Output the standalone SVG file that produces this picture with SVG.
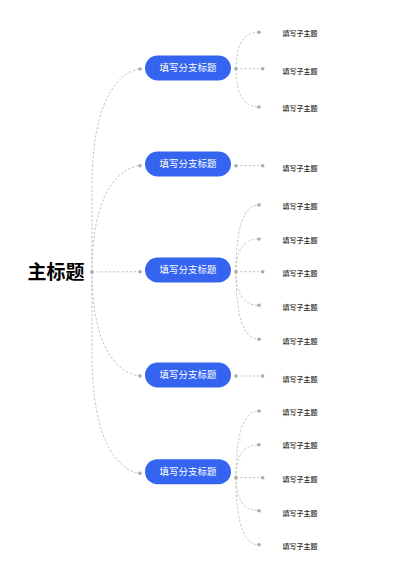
<svg xmlns="http://www.w3.org/2000/svg" width="400" height="566" viewBox="0 0 400 566">
<style>
.c{fill:none;stroke:#bcbcbc;stroke-width:0.9;stroke-dasharray:2.4 1.8}
.d{fill:#ababab}
.n{fill:#3464f0}
.bt{font-family:"Noto Sans CJK SC","Noto Sans",sans-serif;font-size:9.5px;fill:#ffffff;text-anchor:middle}
.lt{font-family:"Noto Sans CJK SC","Noto Sans",sans-serif;font-size:7px;fill:#2b2b2b;font-weight:500}
.rt{font-family:"Noto Sans CJK SC","Noto Sans",sans-serif;font-size:19px;font-weight:bold;fill:#000}
</style>
<rect width="400" height="566" fill="#ffffff"/>
<g id="connectors">
<path class="c" d="M92 272 V187 C92 69 140 69 140 69"/>
<path class="c" d="M92 272 C92 165.7 140 165.7 140 165.7"/>
<path class="c" d="M92 272 L140 271.7"/>
<path class="c" d="M92 272 C92 376 140 376 140 376"/>
<path class="c" d="M92 272 V355 C92 473.3 140 473.3 140 473.3"/>
<path class="c" d="M236 68.7 Q236 32.3 259 32.3"/>
<path class="c" d="M236 68.7 L262.7 68.7"/>
<path class="c" d="M236 68.7 Q236 107 259 107"/>
<path class="c" d="M236 165.7 L262.7 165.7"/>
<path class="c" d="M236 271.7 Q236 205 259 205"/>
<path class="c" d="M236 271.7 Q236 239 259 239"/>
<path class="c" d="M236 271.7 L262.7 271.7"/>
<path class="c" d="M236 271.7 Q236 305.3 259 305.3"/>
<path class="c" d="M236 271.7 Q236 339.3 259 339.3"/>
<path class="c" d="M236 376 L262.7 376"/>
<path class="c" d="M236 477.7 Q236 411 259 411"/>
<path class="c" d="M236 477.7 Q236 444.7 259 444.7"/>
<path class="c" d="M236 477.7 L262.7 477.7"/>
<path class="c" d="M236 477.7 Q236 510.7 259 510.7"/>
<path class="c" d="M236 477.7 Q236 544.7 259 544.7"/>
</g>
<g id="root">
<text class="rt" x="27.5" y="278.8">主标题</text>
<circle class="d" cx="92" cy="272" r="1.8"/>
</g>
<g id="branch1">
<circle class="d" cx="140" cy="69" r="1.8"/>
<rect class="n" x="145" y="55.5" width="86" height="25" rx="12.5"/>
<text class="bt" x="188" y="71.4">填写分支标题</text>
<circle class="d" cx="236" cy="68.7" r="1.8"/>
</g>
<g id="branch2">
<circle class="d" cx="140" cy="165.7" r="1.8"/>
<rect class="n" x="145" y="151.5" width="86" height="25" rx="12.5"/>
<text class="bt" x="188" y="167.4">填写分支标题</text>
<circle class="d" cx="236" cy="165.7" r="1.8"/>
</g>
<g id="branch3">
<circle class="d" cx="140" cy="271.7" r="1.8"/>
<rect class="n" x="145" y="257.5" width="86" height="25" rx="12.5"/>
<text class="bt" x="188" y="273.4">填写分支标题</text>
<circle class="d" cx="236" cy="271.7" r="1.8"/>
</g>
<g id="branch4">
<circle class="d" cx="140" cy="376" r="1.8"/>
<rect class="n" x="145" y="362.5" width="86" height="25" rx="12.5"/>
<text class="bt" x="188" y="378.4">填写分支标题</text>
<circle class="d" cx="236" cy="376" r="1.8"/>
</g>
<g id="branch5">
<circle class="d" cx="140" cy="473.3" r="1.8"/>
<rect class="n" x="145" y="459.2" width="86" height="25" rx="12.5"/>
<text class="bt" x="188" y="475.1">填写分支标题</text>
<circle class="d" cx="236" cy="477.7" r="1.8"/>
</g>
<g id="leaf1-1"><circle class="d" cx="259" cy="32.3" r="1.8"/><text class="lt" x="282.5" y="35.8">填写子主题</text></g>
<g id="leaf1-2"><circle class="d" cx="262.7" cy="68.7" r="1.8"/><text class="lt" x="282.5" y="73.5">填写子主题</text></g>
<g id="leaf1-3"><circle class="d" cx="259" cy="107" r="1.8"/><text class="lt" x="282.5" y="111.2">填写子主题</text></g>
<g id="leaf2-1"><circle class="d" cx="262.7" cy="165.7" r="1.8"/><text class="lt" x="282.5" y="170.8">填写子主题</text></g>
<g id="leaf3-1"><circle class="d" cx="259" cy="205" r="1.8"/><text class="lt" x="282.5" y="208.5">填写子主题</text></g>
<g id="leaf3-2"><circle class="d" cx="259" cy="239" r="1.8"/><text class="lt" x="282.5" y="242.5">填写子主题</text></g>
<g id="leaf3-3"><circle class="d" cx="262.7" cy="271.7" r="1.8"/><text class="lt" x="282.5" y="275.8">填写子主题</text></g>
<g id="leaf3-4"><circle class="d" cx="259" cy="305.3" r="1.8"/><text class="lt" x="282.5" y="309.5">填写子主题</text></g>
<g id="leaf3-5"><circle class="d" cx="259" cy="339.3" r="1.8"/><text class="lt" x="282.5" y="343.5">填写子主题</text></g>
<g id="leaf4-1"><circle class="d" cx="262.7" cy="376" r="1.8"/><text class="lt" x="282.5" y="381.8">填写子主题</text></g>
<g id="leaf5-1"><circle class="d" cx="259" cy="411" r="1.8"/><text class="lt" x="282.5" y="414.5">填写子主题</text></g>
<g id="leaf5-2"><circle class="d" cx="259" cy="444.7" r="1.8"/><text class="lt" x="282.5" y="448.2">填写子主题</text></g>
<g id="leaf5-3"><circle class="d" cx="262.7" cy="477.7" r="1.8"/><text class="lt" x="282.5" y="481.8">填写子主题</text></g>
<g id="leaf5-4"><circle class="d" cx="259" cy="510.7" r="1.8"/><text class="lt" x="282.5" y="515.5">填写子主题</text></g>
<g id="leaf5-5"><circle class="d" cx="259" cy="544.7" r="1.8"/><text class="lt" x="282.5" y="549.2">填写子主题</text></g>
</svg>
